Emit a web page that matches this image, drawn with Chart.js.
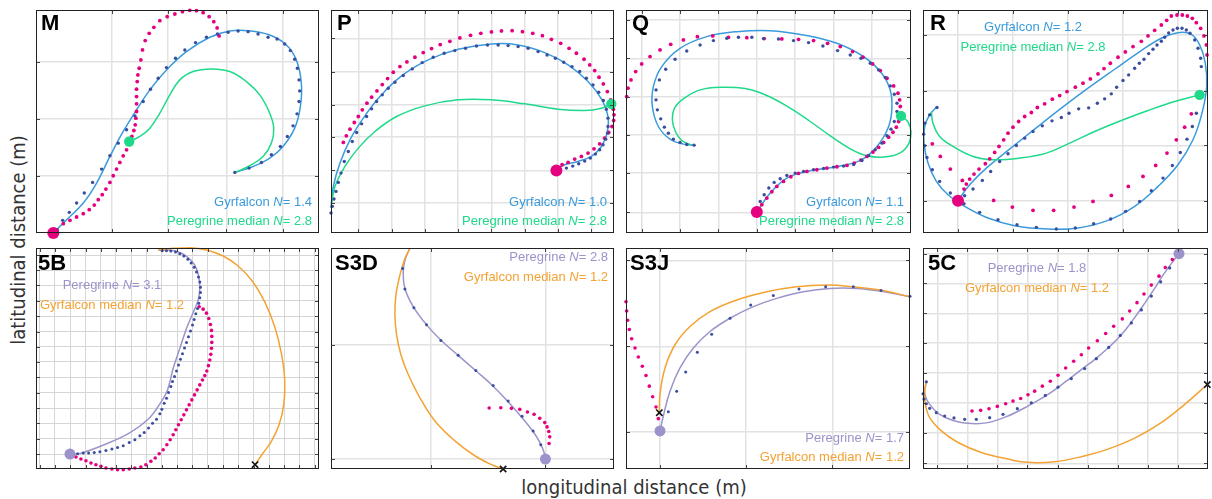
<!DOCTYPE html>
<html>
<head>
<meta charset="utf-8">
<script src="https://cdn.jsdelivr.net/npm/chart.js@4.4.1/dist/chart.umd.min.js"></script>
<style>
  body { margin: 0; background: #fff; width: 1212px; height: 499px; position: relative; overflow: hidden;
         font-family: "Liberation Sans", Arial, sans-serif; }
  canvas { position: absolute; }
  .lab { position: absolute; font-weight: bold; font-size: 22px; line-height: 22px; color: #000; }
  .leg { position: absolute; font-size: 13px; line-height: 16px; white-space: nowrap; }
  .axt { position: absolute; font-family: "Liberation Sans Narrow", "DejaVu Sans Condensed", sans-serif;
         font-size: 20px; line-height: 20px; color: #333; white-space: nowrap; }
</style>
</head>
<body>
<div class="axt" style="left:18px;top:240px;transform:translate(-50%,-50%) rotate(-90deg)">latitudinal distance (m)</div>
<div class="axt" style="left:634px;top:487px;transform:translate(-50%,-50%)">longitudinal distance (m)</div>
<script>
// ---- data (arbitrary distance units) ----
// M
const mGridX = [245, 415, 590, 760];
const mGridY = [192, 363, 535];
const mGyrLine = [[70,20],[110,60],[160,110],[200,170],[240,250],[280,325],[320,390],[360,450],[410,510],[470,565],[540,608],[600,627],[655,628],[720,615],[770,585],[800,540],[815,470],[812,400],[795,335],[760,280],[720,245],[670,220],[615,202]];
const mGyrDots = [[82,30],[98,58],[118,82],[140,110],[163,140],[188,172],[215,212],[240,252],[265,290],[290,330],[315,372],[340,415],[362,452],[385,485],[410,517],[437,545],[465,570],[497,592],[530,608],[563,618],[595,623],[625,627],[655,625],[685,618],[715,608],[742,603],[765,588],[782,568],[795,542],[803,515],[808,480],[810,447],[808,415],[802,378],[790,342],[773,310],[752,280],[725,255],[695,232],[658,215],[615,202]];
const mPerDots = [[100,48],[120,58],[140,68],[160,78],[178,90],[193,104],[205,120],[217,135],[228,152],[240,172],[250,192],[260,212],[270,232],[280,252],[290,270],[298,290],[306,310],[312,328],[316,345],[318,365],[320,385],[320,408],[320,430],[320,452],[322,475],[324,495],[328,515],[333,540],[338,570],[346,598],[358,620],[372,638],[390,658],[412,670],[435,678],[458,685],[480,689],[500,688],[520,682],[538,670],[552,655],[562,636],[568,612]];
const mPerMedian = [[298,295],[330,310],[360,335],[390,380],[420,435],[450,480],[490,505],[545,513],[600,505],[650,475],[690,435],[720,380],[732,335],[725,290],[700,250],[660,222],[615,202]];
const mGyrStart = [[70,20]];
const mMedStart = [[298,295]];

// P
const pGridX = [100, 200, 300, 400, 500, 600, 700, 800];
const pGridY = [110, 208, 308, 405, 505, 605];
const pGyrLine = [[18,95],[25,160],[45,230],[75,300],[115,365],[165,430],[230,492],[310,540],[400,572],[500,588],[580,585],[660,562],[730,525],[790,475],[832,420],[850,370],[847,320],[830,280],[800,250],[760,235],[720,225],[700,215]];
const pGyrDots = [[18,80],[22,100],[27,122],[33,145],[40,172],[48,200],[58,235],[70,265],[82,295],[95,322],[110,348],[125,370],[140,393],[155,415],[172,435],[190,455],[210,473],[235,493],[262,513],[292,532],[325,548],[358,560],[390,568],[422,575],[455,582],[488,585],[520,585],[550,583],[580,580],[610,575],[640,565],[667,555],[692,545],[717,533],[742,520],[765,505],[785,485],[805,465],[822,443],[836,418],[845,392],[850,365],[850,340],[849,320],[843,302],[835,285],[825,270],[812,257],[797,245],[780,236],[762,228],[744,221],[725,215]];
const pPerDots = [[712,225],[730,232],[750,242],[770,250],[790,260],[808,273],[825,288],[840,305],[852,322],[862,340],[867,358],[868,375],[866,392],[858,420],[848,445],[836,468],[823,488],[810,508],[795,525],[778,542],[755,560],[733,575],[708,590],[680,602],[653,613],[624,620],[593,625],[562,628],[530,627],[500,624],[468,620],[437,614],[405,606],[375,596],[346,586],[320,574],[295,562],[270,548],[246,534],[225,520],[205,503],[188,484],[172,466],[156,447],[140,428],[126,410],[112,390],[100,370],[88,352],[75,332],[64,312],[55,292]];
const pPerMedian = [[20,110],[30,160],[60,220],[100,275],[150,325],[215,370],[300,402],[400,420],[500,420],[600,408],[700,392],[780,388],[830,395],[860,408]];
const pGyrStart = [[695,208]];
const pMedStart = [[860,408]];

// Q
const qGridX = [65, 180, 295, 410, 525, 640, 755];
const qGridY = [82, 200, 315, 430, 545, 660];
const qGyrLine = [[410,83],[450,140],[500,185],[560,205],[650,220],[720,238],[770,280],[805,340],[815,400],[808,455],[780,505],[730,550],[650,590],[550,615],[450,628],[350,625],[260,610],[180,575],[125,520],[100,460],[97,400],[115,340],[150,302],[190,287],[222,284]];
const qGyrDots = [[410,95],[420,115],[432,135],[446,155],[462,172],[480,183],[500,193],[525,200],[550,205],[580,210],[610,214],[640,218],[670,221],[700,226],[725,238],[745,253],[765,270],[785,290],[800,312],[812,332],[822,355],[830,385],[830,410],[822,437],[810,462],[795,487],[775,510],[750,530],[722,545],[690,555],[652,568],[608,582],[565,592],[520,598],[475,603],[430,604],[395,608],[355,608],[320,605],[280,598],[240,585],[200,567],[165,542],[137,512],[118,480],[108,450],[108,420],[112,390],[122,363],[133,338],[145,320],[160,302],[180,292],[200,286],[222,284]];
const qPerDots = [[425,105],[440,125],[455,144],[470,160],[490,175],[512,189],[535,199],[560,205],[590,210],[620,215],[650,219],[680,223],[702,230],[722,239],[740,250],[758,263],[775,277],[790,292],[805,308],[818,323],[828,338],[835,355],[840,400],[838,420],[833,440],[820,462],[800,485],[780,508],[757,528],[728,548],[697,565],[660,580],[622,590],[580,598],[535,602],[485,603],[432,604],[380,607],[325,608],[278,612],[232,610],[190,600],[152,587],[120,570],[90,550],[65,528],[47,505],[33,480],[24,455],[20,430]];
const qPerMedian = [[842,372],[862,355],[872,325],[865,288],[838,260],[790,248],[740,252],[690,273],[630,312],[570,355],[505,398],[440,433],[375,454],[300,458],[240,450],[195,427],[165,398],[157,360],[166,325],[185,298],[215,284]];
const qGyrStart = [[410,83]];
const qMedStart = [[842,372]];

// R
const rGridX = [130, 295, 460, 625, 790];
const rGridY = [117, 283, 448, 615];
const rGyrLine = [[130,117],[165,165],[215,215],[280,268],[360,332],[440,395],[520,455],[600,512],[680,568],[740,605],[790,622],[830,617],[855,585],[872,530],[876,460],[862,380],[835,300],[790,225],[730,160],[660,100],[580,58],[490,35],[400,32],[300,42],[220,65],[150,100],[100,135],[65,175],[40,230],[28,290],[30,340],[45,375],[65,398]];
const rGyrDots = [[150,132],[175,152],[203,178],[228,205],[255,235],[280,258],[305,283],[330,305],[355,325],[383,342],[412,357],[440,367],[463,380],[492,393],[522,396],[548,410],[570,423],[590,438],[606,458],[625,478],[642,495],[660,515],[674,530],[688,542],[702,559],[715,572],[727,585],[740,596],[750,608],[762,621],[775,630],[788,635],[802,635],[815,630],[826,620],[840,600],[850,575],[858,545],[860,520],[845,380],[833,340],[817,302],[797,262],[773,223],[745,185],[710,147],[675,115],[633,85],[588,62],[537,48],[482,35],[425,32],[365,37],[307,45],[250,60],[195,82],[148,108],[107,140],[75,175],[53,210],[37,247],[30,282],[27,317],[30,350],[45,375],[67,397]];
const rPerDots = [[53,288],[77,250],[107,212],[143,178],[148,152],[155,167],[165,182],[178,197],[193,212],[212,228],[225,243],[240,262],[253,280],[267,300],[280,320],[295,338],[312,355],[330,370],[350,382],[368,397],[390,408],[413,422],[435,433],[457,445],[482,458],[505,470],[527,483],[550,498],[568,514],[587,530],[610,548],[632,564],[655,580],[680,596],[700,612],[720,629],[740,645],[756,659],[770,672],[787,675],[803,675],[818,672],[833,665],[845,652],[858,635],[868,612],[875,585],[877,555],[830,378],[810,338],[785,300],[757,260],[723,223],[685,190],[641,160],[590,133],[535,115],[478,98],[417,88],[355,88],[293,98],[237,118]];
const rPerMedian = [[855,435],[780,415],[700,388],[620,358],[540,325],[465,290],[395,260],[315,245],[235,240],[175,250],[115,280],[75,310],[55,350],[50,385]];
const rGyrStart = [[130,117]];
const rMedStart = [[855,435]];

// 5B
const bGridX = [29, 75, 121, 167, 213, 258, 304, 350, 396, 442, 488, 534, 580, 626, 672, 718, 763, 809, 855];
const bGridY = [62, 108, 155, 200, 247, 293, 340, 385, 430, 477, 523, 570, 615, 660];
const bGyrMedian = [[385,675],[430,681],[480,683],[530,676],[580,658],[625,628],[668,582],[705,520],[735,445],[755,365],[765,285],[762,210],[748,150],[725,100],[700,65],[676,30]];
const bPerLine = [[120,62],[150,64],[218,88],[298,125],[353,165],[388,210],[413,255],[430,320],[450,380],[470,440],[490,488],[505,525],[510,562],[506,600],[494,632],[470,657],[440,672],[410,676],[385,675]];
const bPerDots = [[143,63],[160,65],[176,65],[193,67],[210,69],[228,73],[246,77],[263,82],[280,87],[298,97],[315,105],[330,117],[343,127],[356,140],[368,155],[380,167],[390,183],[396,197],[403,215],[410,230],[416,247],[423,265],[428,280],[434,295],[440,312],[446,330],[452,347],[458,364],[464,381],[470,398],[476,415],[482,432],[488,450],[493,467],[498,484],[503,500],[507,516],[510,532],[512,548],[512,564],[510,580],[506,595],[500,610],[493,624],[484,637],[474,648],[462,658],[450,665],[437,670],[423,673],[410,674],[397,674]];
const bOtherDots = [[508,505],[520,498],[530,486],[537,470],[542,452],[545,434],[546,416],[546,398],[545,380],[543,362],[540,345],[536,328],[531,312],[525,298],[518,285],[510,270],[502,255],[494,240],[486,225],[478,210],[470,195],[462,180],[454,165],[446,150],[438,135],[430,120],[421,105],[411,90],[400,75],[388,63],[376,50],[363,40],[348,30],[333,23],[315,20],[298,17],[280,15],[263,15],[246,17],[228,20],[213,25],[198,30],[183,35],[168,42],[153,47],[138,53]];
const bPerStart = [[120,62]];
const bGyrEnd = [[676,30]];

// S3D
const dGridX = [318, 662];
const dGridY = [45, 390];
const dGyrMedian = [[256,682],[240,650],[225,600],[213,540],[210,480],[215,420],[228,360],[250,300],[285,230],[330,160],[390,100],[450,55],[500,28],[535,15]];
const dPerLine = [[255,682],[240,645],[235,610],[240,560],[265,505],[305,450],[350,402],[400,358],[455,310],[505,265],[550,218],[590,172],[625,128],[648,90],[660,58],[662,45]];
const dPerDots = [[233,620],[240,558],[267,502],[305,450],[348,403],[400,358],[453,312],[505,267],[550,220],[592,174],[625,130],[648,88]];
const dOtherDots = [[493,199],[528,200],[560,198],[585,195],[608,187],[628,180],[645,168],[660,155],[667,142],[672,128],[675,112],[673,92]];
const dPerStart = [[662,45]];
const dGyrEnd = [[535,15]];

// S3J
const jGridX = [120, 377, 637];
const jGridY = [128, 385, 645];
const jGyrMedian = [[118,185],[120,240],[135,320],[165,390],[210,445],[270,490],[350,525],[440,550],[530,565],[620,570],[700,565],[780,555],[870,535]];
const jPerLine = [[120,130],[130,175],[150,250],[180,320],[220,380],[270,430],[330,470],[400,505],[470,530],[550,550],[630,560],[710,560],[780,552],[870,535]];
const jPerDots = [[145,188],[170,250],[197,308],[232,367],[275,422],[330,470],[392,510],[460,539],[537,558],[617,565],[700,565],[783,554],[870,536]];
const jOtherDots = [[18,520],[20,492],[23,464],[28,436],[35,408],[45,380],[55,353],[67,325],[78,297],[88,265],[98,233],[108,202],[115,167]];
const jPerStart = [[120,130]];
const jGyrEnd = [[118,185]];

// 5C
const cGridX = [68, 158, 248, 338, 430, 520, 610, 700, 790];
const cGridY = [32, 125, 215, 305, 395, 485, 575, 665];
const cGyrMedian = [[35,275],[30,250],[32,210],[45,170],[80,130],[130,95],[200,65],[280,45],[340,35],[420,37],[500,52],[580,75],[660,108],[740,155],[810,210],[878,270]];
const cPerLine = [[793,665],[770,635],[745,600],[720,560],[690,515],[655,465],[620,420],[580,380],[540,345],[500,315],[455,280],[400,240],[340,205],[280,175],[220,155],[170,152],[120,160],[75,180],[45,210],[30,242],[33,270]];
const cPerDots = [[35,278],[25,242],[28,226],[35,212],[45,198],[65,185],[90,175],[118,169],[150,165],[185,165],[225,170],[265,180],[308,197],[350,215],[392,237],[430,262],[470,288],[510,318],[545,348],[582,382],[617,418],[650,456],[680,495],[710,537],[738,580],[765,622]];
const cOtherDots = [[172,190],[198,192],[223,197],[248,204],[273,212],[295,220],[318,228],[340,239],[360,250],[383,265],[407,280],[430,298],[453,320],[477,340],[500,360],[522,380],[548,402],[573,424],[597,446],[623,468],[645,492],[667,517],[688,543],[710,570],[733,597],[752,623],[773,647]];
const cPerStart = [[793,665]];
const cGyrEnd = [[878,270]];

// ---- colours ----
const BLUE = '#3a9bdc', NAVY = '#3a4d9f', MAG = '#e4007f', GREEN = '#1fd98a',
      LAV = '#9a94cb', ORANGE = '#f4a233';

const xy = a => a.map(([x, y]) => ({ x, y }));
const line = (d, c) => ({ data: xy(d), showLine: true, borderColor: c, borderWidth: 1.5, pointRadius: 0, tension: 0.4, order: 3, clip: 6 });
const dots = (d, c, r) => ({ data: xy(d), showLine: false, pointRadius: r || 1.7, pointBackgroundColor: c, pointBorderWidth: 0, order: 2, clip: 6 });
const big = (d, c, r) => ({ data: xy(d), showLine: false, pointRadius: r, pointBackgroundColor: c, pointBorderWidth: 0, order: 1, clip: 8 });
const cross = d => ({ data: xy(d), showLine: false, pointStyle: 'crossRot', pointRadius: 4.5, pointBorderColor: '#111', pointBorderWidth: 1.6, order: 0, clip: 8 });

const rowTop = [10, 223], rowBot = [248, 221];
const panels = [
  { label: 'M', box: [36, rowTop[0], 283, rowTop[1]], xr: [18, 868], yr: [20, 690], gx: mGridX, gy: mGridY, lab: [41, 12],
    sets: [line(mPerMedian, GREEN), line(mGyrLine, BLUE), dots(mGyrDots, NAVY), dots(mPerDots, MAG, 1.9), big(mGyrStart, MAG, 6), big(mMedStart, GREEN, 5.2)],
    leg: { align: 'right', x: 312, y: [202, 221], items: [['Gyrfalcon', '1.4', BLUE], ['Peregrine median', '2.8', GREEN]] } },
  { label: 'P', box: [331, rowTop[0], 283, rowTop[1]], xr: [18, 868], yr: [20, 690], gx: pGridX, gy: pGridY, lab: [337, 12],
    sets: [line(pPerMedian, GREEN), line(pGyrLine, BLUE), dots(pGyrDots, NAVY), dots(pPerDots, MAG, 1.9), big(pGyrStart, MAG, 6), big(pMedStart, GREEN, 5.2)],
    leg: { align: 'right', x: 607, y: [202, 221], items: [['Gyrfalcon', '1.0', BLUE], ['Peregrine median', '2.8', GREEN]] } },
  { label: 'Q', box: [626, rowTop[0], 285, rowTop[1]], xr: [18, 872], yr: [20, 690], gx: qGridX, gy: qGridY, lab: [632, 12],
    sets: [line(qPerMedian, GREEN), line(qGyrLine, BLUE), dots(qGyrDots, NAVY), dots(qPerDots, MAG, 1.9), big(qGyrStart, MAG, 6), big(qMedStart, GREEN, 5.2)],
    leg: { align: 'right', x: 904, y: [202, 221], items: [['Gyrfalcon', '1.1', BLUE], ['Peregrine median', '2.8', GREEN]] } },
  { label: 'R', box: [923, rowTop[0], 285, rowTop[1]], xr: [25, 880], yr: [20, 690], gx: rGridX, gy: rGridY, lab: [930, 12],
    sets: [line(rPerMedian, GREEN), line(rGyrLine, BLUE), dots(rGyrDots, NAVY), dots(rPerDots, MAG, 1.9), big(rGyrStart, MAG, 6), big(rMedStart, GREEN, 5.2)],
    leg: { align: 'center', x: 1033, y: [27, 47], items: [['Gyrfalcon', '1.2', BLUE], ['Peregrine median', '2.8', GREEN]] } },
  { label: '5B', box: [36, rowBot[0], 283, rowBot[1]], xr: [18, 868], yr: [17, 682], gx: bGridX, gy: bGridY, lab: [38, 252], dense: true,
    sets: [line(bGyrMedian, ORANGE), line(bPerLine, LAV), dots(bPerDots, NAVY, 1.5), dots(bOtherDots, MAG, 1.8), big(bPerStart, LAV, 5.5), cross(bGyrEnd)],
    leg: { align: 'center', x: 112, y: [285, 305], items: [['Peregrine', '3.1', LAV], ['Gyrfalcon median', '1.2', ORANGE]] } },
  { label: 'S3D', box: [331, rowBot[0], 283, rowBot[1]], xr: [18, 868], yr: [15, 682], gx: dGridX, gy: dGridY, lab: [335, 252],
    sets: [line(dGyrMedian, ORANGE), line(dPerLine, LAV), dots(dPerDots, NAVY, 1.5), dots(dOtherDots, MAG, 1.8), big(dPerStart, LAV, 5.5), cross(dGyrEnd)],
    leg: { align: 'right', x: 608, y: [257, 277], items: [['Peregrine', '2.8', LAV], ['Gyrfalcon median', '1.2', ORANGE]] } },
  { label: 'S3J', box: [626, rowBot[0], 284, rowBot[1]], xr: [18, 870], yr: [15, 682], gx: jGridX, gy: jGridY, lab: [630, 252],
    sets: [line(jGyrMedian, ORANGE), line(jPerLine, LAV), dots(jPerDots, NAVY, 1.5), dots(jOtherDots, MAG, 1.8), big(jPerStart, LAV, 5.5), cross(jGyrEnd)],
    leg: { align: 'right', x: 904, y: [438, 457], items: [['Peregrine', '1.7', LAV], ['Gyrfalcon median', '1.2', ORANGE]] } },
  { label: '5C', box: [923, rowBot[0], 285, rowBot[1]], xr: [25, 880], yr: [15, 682], gx: cGridX, gy: cGridY, lab: [928, 252],
    sets: [line(cGyrMedian, ORANGE), line(cPerLine, LAV), dots(cPerDots, NAVY, 1.6), dots(cOtherDots, MAG, 1.8), big(cPerStart, LAV, 5.5), cross(cGyrEnd)],
    leg: { align: 'center', x: 1037, y: [268, 288], items: [['Peregrine', '1.8', LAV], ['Gyrfalcon median', '1.2', ORANGE]] } }
];

// frame + inward tick marks
const framePlugin = {
  id: 'frame',
  afterDraw(chart) {
    const { ctx, chartArea: a, scales: { x, y } } = chart;
    ctx.save();
    ctx.strokeStyle = '#444';
    ctx.lineWidth = 1;
    ctx.beginPath();
    x.ticks.forEach(t => {
      const px = Math.round(x.getPixelForValue(t.value)) + 0.5;
      ctx.moveTo(px, a.bottom); ctx.lineTo(px, a.bottom - 4);
      ctx.moveTo(px, a.top); ctx.lineTo(px, a.top + 4);
    });
    y.ticks.forEach(t => {
      const py = Math.round(y.getPixelForValue(t.value)) + 0.5;
      ctx.moveTo(a.left, py); ctx.lineTo(a.left + 4, py);
      ctx.moveTo(a.right, py); ctx.lineTo(a.right - 4, py);
    });
    ctx.stroke();
    ctx.strokeStyle = '#222';
    ctx.strokeRect(Math.round(a.left) + 0.5, Math.round(a.top) + 0.5, Math.round(a.width) - 1, Math.round(a.height) - 1);
    ctx.restore();
  }
};

const PAD = 8;
panels.forEach(p => {
  const [l, t, w, h] = p.box;
  const cv = document.createElement('canvas');
  cv.width = w + PAD * 2; cv.height = h + PAD * 2;
  cv.style.left = (l - PAD) + 'px'; cv.style.top = (t - PAD) + 'px';
  document.body.appendChild(cv);

  const axis = (r, grid) => ({
    type: 'linear', min: r[0], max: r[1],
    afterBuildTicks: s => { s.ticks = grid.map(v => ({ value: v })); },
    ticks: { display: false },
    grid: p.dense ? { color: '#d6d6d6', lineWidth: 1, drawTicks: false }
                  : { color: '#e2e2e2', lineWidth: 1.5, drawTicks: false },
    border: { display: false }
  });

  new Chart(cv, {
    type: 'scatter',
    data: { datasets: p.sets },
    options: {
      responsive: false, animation: false, devicePixelRatio: 1, events: [],
      layout: { padding: PAD },
      plugins: { legend: { display: false }, tooltip: { enabled: false } },
      scales: { x: axis(p.xr, p.gx), y: axis(p.yr, p.gy) }
    },
    plugins: [framePlugin]
  });

  const lab = document.createElement('div');
  lab.className = 'lab';
  lab.textContent = p.label;
  lab.style.left = p.lab[0] + 'px'; lab.style.top = p.lab[1] + 'px';
  document.body.appendChild(lab);

  p.leg.items.forEach(([name, n, col], i) => {
    const d = document.createElement('div');
    d.className = 'leg';
    d.style.color = col;
    d.innerHTML = name + ' <i>N</i>= ' + n;
    d.style.top = (p.leg.y[i] - 8) + 'px';
    if (p.leg.align === 'right') d.style.right = (1212 - p.leg.x) + 'px';
    else { d.style.left = p.leg.x + 'px'; d.style.transform = 'translateX(-50%)'; }
    document.body.appendChild(d);
  });
});
</script>
</body>
</html>
